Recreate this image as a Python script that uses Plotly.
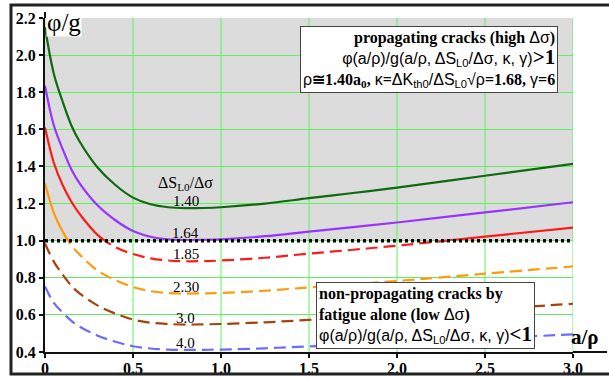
import plotly.graph_objects as go

# a/rho positions where the curves are sampled
a_rho = [0, 0.05, 0.1, 0.15, 0.2, 0.3, 0.4, 0.5, 0.6, 0.7, 0.8, 0.9, 1.0,
         1.25, 1.5, 1.75, 2.0, 2.5, 3.0]

# phi/g for each value of dS_L0/d_sigma
phi_g_140 = [2.150, 1.900, 1.750, 1.621, 1.529, 1.393, 1.300, 1.232, 1.196, 1.180,
             1.175, 1.176, 1.180, 1.200, 1.229, 1.257, 1.286, 1.350, 1.414]
phi_g_164 = [1.835, 1.622, 1.494, 1.384, 1.305, 1.189, 1.110, 1.052, 1.021, 1.007,
             1.003, 1.004, 1.007, 1.024, 1.049, 1.073, 1.098, 1.152, 1.207]
phi_g_185 = [1.610, 1.420, 1.300, 1.210, 1.140, 1.030, 0.965, 0.928, 0.905, 0.893,
             0.889, 0.890, 0.893, 0.908, 0.930, 0.951, 0.973, 1.022, 1.070]
phi_g_230 = [1.309, 1.150, 1.050, 0.975, 0.922, 0.838, 0.787, 0.750, 0.728, 0.718,
             0.715, 0.716, 0.718, 0.730, 0.748, 0.765, 0.783, 0.822, 0.861]
phi_g_300 = [0.985, 0.887, 0.817, 0.757, 0.713, 0.650, 0.607, 0.575, 0.558, 0.551,
             0.548, 0.549, 0.551, 0.560, 0.573, 0.587, 0.600, 0.630, 0.660]
phi_g_400 = [0.753, 0.665, 0.613, 0.568, 0.535, 0.488, 0.455, 0.431, 0.419, 0.413,
             0.411, 0.412, 0.413, 0.420, 0.430, 0.440, 0.450, 0.473, 0.495]

series = [phi_g_140, phi_g_164, phi_g_185, phi_g_230, phi_g_300, phi_g_400]
ratio_labels = ["1.40", "1.64", "1.85", "2.30", "3.0", "4.0"]
colors = ["#0f6a0f", "#9933ff", "#ff1a1a", "#ff9a0a", "#a8400c", "#6b6bff"]

y_ticks = [0.4, 0.6, 0.8, 1.0, 1.2, 1.4, 1.6, 1.8, 2.0, 2.2]
y_ticktext = ["0.4", "0.6", "0.8", "1.0", "1.2", "1.4", "1.6", "1.8", "2.0", "2.2"]
x_ticks = [0, 0.5, 1.0, 1.5, 2.0, 2.5, 3.0]
x_ticktext = ["0", "0.5", "1.0", "1.5", "2.0", "2.5", "3.0"]

Y_MIN, Y_MAX, THRESHOLD = 0.4, 2.2, 1.0
X_MAX = 3.0
SERIF = "Liberation Serif"
SANS = "Liberation Sans"
GRID = "#5ff05f"

split = (THRESHOLD - Y_MIN) / (Y_MAX - Y_MIN)

fig = go.Figure()

# Each curve is drawn twice: solid in the band above phi/g = 1, dashed below;
# the two hidden y axes clip the copies at the threshold.
for vals, col in zip(series, colors):
    fig.add_trace(go.Scatter(x=a_rho, y=vals, yaxis="y2", mode="lines",
                             line=dict(color=col, width=2.2, shape="spline"),
                             showlegend=False, hoverinfo="skip"))
    fig.add_trace(go.Scatter(x=a_rho, y=vals, yaxis="y3", mode="lines",
                             line=dict(color=col, width=2.2, shape="spline",
                                       dash="12px,6px"),
                             showlegend=False, hoverinfo="skip"))


def sans(t):
    return f'<span style="font-family:{SANS};font-weight:normal">{t}</span>'


def sub(t):
    return f"<sub>{sans(t)}</sub>"


big = '<span style="font-size:21px"><b>{}</b></span>'

ratio_expr = (sans("φ(a/ρ)/g(a/ρ, ΔS") + sub("L0") + sans("/Δσ, κ, γ)"))

top_box = ("<b>propagating cracks (high </b>" + sans("Δσ") + "<b>)</b><br>"
           + ratio_expr + big.format("&gt;1") + "<br>"
           + sans("ρ") + "<b>≅1.40a</b><sub><b>0</b></sub><b>, </b>" + sans("κ")
           + "<b>=</b>" + sans("ΔK") + sub("th0") + sans("/ΔS") + sub("L0")
           + sans("√ρ") + "<b>=1.68, </b>" + sans("γ") + "<b>=6</b>")

bottom_box = ("<b>non-propagating cracks by</b><br>"
              "<b>fatigue alone (low </b>" + sans("Δσ") + "<b>)</b><br>"
              + ratio_expr + big.format("&lt;1"))

annotations = [
    dict(xref="paper", yref="paper", x=0.9716, y=0.976, xanchor="right",
         yanchor="top", align="right", text=top_box, showarrow=False,
         bgcolor="white", bordercolor="#444", borderwidth=1, borderpad=2,
         font=dict(family=SERIF, size=16, color="black")),
    dict(xref="paper", yref="paper", x=0.513, y=0.009, xanchor="left",
         yanchor="bottom", align="left", text=bottom_box, showarrow=False,
         bgcolor="white", bordercolor="#444", borderwidth=1, borderpad=2,
         font=dict(family=SERIF, size=16, color="black")),
    dict(xref="paper", yref="paper", x=0.002, y=0.988, xanchor="left",
         yanchor="middle", text="φ/g", showarrow=False, bgcolor="white",
         borderpad=0, font=dict(family=SERIF, size=25, color="black")),
    dict(xref="paper", yref="paper", x=1.0227, y=0.045, xanchor="center",
         yanchor="middle", text="<b>a/ρ</b>", showarrow=False,
         font=dict(family=SERIF, size=21, color="black")),
]

# curve labels sit just above each curve near a/rho = 0.8
label_idx = a_rho.index(0.8)
for vals, lab in zip(series, ratio_labels):
    annotations.append(dict(x=0.8, y=vals[label_idx], xref="x", yref="y",
                            text=lab, showarrow=False, yanchor="middle",
                            yshift=7, font=dict(family=SERIF, size=15,
                                                color="black")))
annotations.append(dict(x=0.8, y=phi_g_140[label_idx], xref="x", yref="y",
                        text="ΔS<sub>L0</sub>/Δσ", showarrow=False,
                        yanchor="middle", yshift=25,
                        font=dict(family=SERIF, size=16, color="black")))

shapes = [
    # shaded region of propagating cracks
    dict(type="rect", xref="x", yref="y", x0=0, x1=X_MAX, y0=THRESHOLD, y1=Y_MAX,
         fillcolor="#dcdcdc", line=dict(width=0), layer="below"),
]
# vertical grid lines, drawn in the same layer after the shaded band
for v in x_ticks[1:]:
    shapes.append(dict(type="line", xref="x", yref="y", x0=v, x1=v,
                       y0=Y_MIN, y1=Y_MAX, line=dict(color=GRID, width=1),
                       layer="below"))
shapes += [
    # threshold phi/g = 1
    dict(type="line", xref="x", yref="y", x0=0, x1=X_MAX, y0=THRESHOLD,
         y1=THRESHOLD, line=dict(color="black", width=3.5, dash="3px,3px"),
         layer="above"),
    # axis line extensions
    dict(type="line", xref="paper", yref="paper", x0=1.0, x1=1.0644, y0=0, y1=0,
         line=dict(color="#111", width=2)),
    dict(type="line", xref="paper", yref="paper", x0=0, x1=0, y0=1.0, y1=1.018,
         line=dict(color="#111", width=2)),
    # outer frame
    dict(type="rect", xref="paper", yref="paper", x0=-0.0644, x1=1.09,
         y0=-0.0659, y1=1.0389, line=dict(color="#222", width=3)),
]

axis_common = dict(zeroline=False, showline=True, linecolor="#111", linewidth=2,
                   ticks="outside", ticklen=4, tickwidth=1.5, tickcolor="#111",
                   automargin=False,
                   tickfont=dict(family=SERIF, size=16, color="black",
                                 weight="bold"))

fig.update_layout(
    template="none",
    width=609, height=380, autosize=False,
    margin=dict(l=45, r=36, t=18, b=28),
    paper_bgcolor="white", plot_bgcolor="rgba(0,0,0,0)",
    showlegend=False,
    annotations=annotations, shapes=shapes,
    xaxis=dict(range=[0, X_MAX], tickvals=x_ticks, ticktext=x_ticktext,
               anchor="y", showgrid=False, ticklabelstandoff=-3, **axis_common),
    yaxis=dict(range=[Y_MIN, Y_MAX], domain=[0, 1], tickvals=y_ticks,
               ticktext=y_ticktext, anchor="x", showgrid=True, gridcolor=GRID,
               gridwidth=1, **axis_common),
    yaxis2=dict(range=[THRESHOLD, Y_MAX], domain=[split, 1], anchor="x",
                visible=False, showgrid=False, zeroline=False, automargin=False),
    yaxis3=dict(range=[Y_MIN, THRESHOLD], domain=[0, split], anchor="x",
                visible=False, showgrid=False, zeroline=False, automargin=False),
)

fig.write_html("out.html")
